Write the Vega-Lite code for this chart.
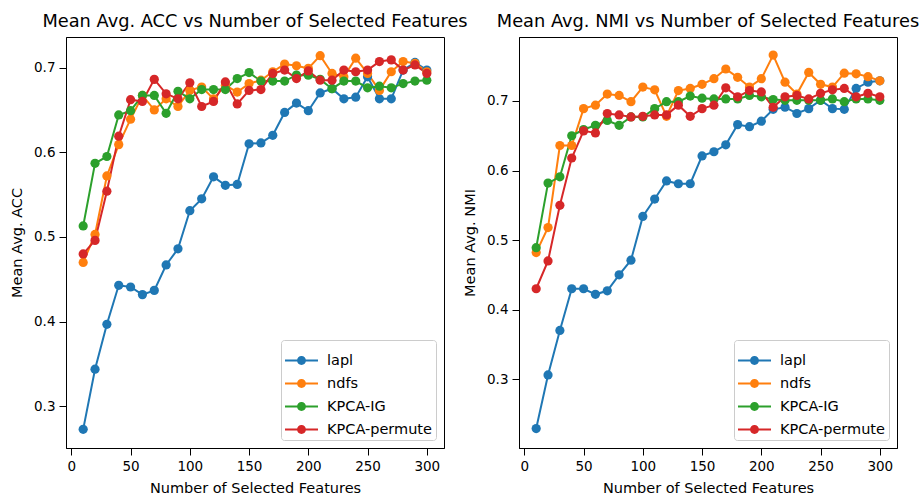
{
  "$schema": "https://vega.github.io/schema/vega-lite/v6.json",
  "background": "white",
  "padding": {"left": 9, "top": 12, "right": 5, "bottom": 5},
  "config": {
    "font": "DejaVu Sans",
    "view": {"stroke": "black", "strokeWidth": 1},
    "axis": {"grid": false, "domainColor": "black", "tickColor": "black", "labelColor": "black", "titleColor": "black", "labelFontSize": 13.5, "titleFontSize": 14.5, "titleFontWeight": "normal", "tickSize": 7, "labelPadding": 4},
    "axisX": {"titlePadding": 9},
    "axisY": {"titlePadding": 9},
    "title": {"fontSize": 17.8, "fontWeight": "normal", "anchor": "middle", "offset": 6, "color": "black"},
    "legend": {"labelFontSize": 14.5, "labelColor": "black"}
  },
  "datasets": {
    "d": [
      {"m":"ACC","method":"lapl","n":10,"v":0.273},{"m":"ACC","method":"lapl","n":20,"v":0.344},{"m":"ACC","method":"lapl","n":30,"v":0.397},{"m":"ACC","method":"lapl","n":40,"v":0.443},{"m":"ACC","method":"lapl","n":50,"v":0.441},{"m":"ACC","method":"lapl","n":60,"v":0.432},{"m":"ACC","method":"lapl","n":70,"v":0.437},{"m":"ACC","method":"lapl","n":80,"v":0.467},{"m":"ACC","method":"lapl","n":90,"v":0.486},{"m":"ACC","method":"lapl","n":100,"v":0.531},{"m":"ACC","method":"lapl","n":110,"v":0.545},{"m":"ACC","method":"lapl","n":120,"v":0.571},{"m":"ACC","method":"lapl","n":130,"v":0.561},{"m":"ACC","method":"lapl","n":140,"v":0.562},{"m":"ACC","method":"lapl","n":150,"v":0.610},{"m":"ACC","method":"lapl","n":160,"v":0.611},{"m":"ACC","method":"lapl","n":170,"v":0.620},{"m":"ACC","method":"lapl","n":180,"v":0.647},{"m":"ACC","method":"lapl","n":190,"v":0.658},{"m":"ACC","method":"lapl","n":200,"v":0.649},{"m":"ACC","method":"lapl","n":210,"v":0.670},{"m":"ACC","method":"lapl","n":220,"v":0.675},{"m":"ACC","method":"lapl","n":230,"v":0.663},{"m":"ACC","method":"lapl","n":240,"v":0.665},{"m":"ACC","method":"lapl","n":250,"v":0.689},{"m":"ACC","method":"lapl","n":260,"v":0.663},{"m":"ACC","method":"lapl","n":270,"v":0.663},{"m":"ACC","method":"lapl","n":280,"v":0.697},{"m":"ACC","method":"lapl","n":290,"v":0.706},{"m":"ACC","method":"lapl","n":300,"v":0.697},
      {"m":"ACC","method":"ndfs","n":10,"v":0.470},{"m":"ACC","method":"ndfs","n":20,"v":0.503},{"m":"ACC","method":"ndfs","n":30,"v":0.572},{"m":"ACC","method":"ndfs","n":40,"v":0.609},{"m":"ACC","method":"ndfs","n":50,"v":0.639},{"m":"ACC","method":"ndfs","n":60,"v":0.667},{"m":"ACC","method":"ndfs","n":70,"v":0.650},{"m":"ACC","method":"ndfs","n":80,"v":0.663},{"m":"ACC","method":"ndfs","n":90,"v":0.654},{"m":"ACC","method":"ndfs","n":100,"v":0.673},{"m":"ACC","method":"ndfs","n":110,"v":0.677},{"m":"ACC","method":"ndfs","n":120,"v":0.663},{"m":"ACC","method":"ndfs","n":130,"v":0.679},{"m":"ACC","method":"ndfs","n":140,"v":0.671},{"m":"ACC","method":"ndfs","n":150,"v":0.681},{"m":"ACC","method":"ndfs","n":160,"v":0.685},{"m":"ACC","method":"ndfs","n":170,"v":0.695},{"m":"ACC","method":"ndfs","n":180,"v":0.704},{"m":"ACC","method":"ndfs","n":190,"v":0.702},{"m":"ACC","method":"ndfs","n":200,"v":0.699},{"m":"ACC","method":"ndfs","n":210,"v":0.714},{"m":"ACC","method":"ndfs","n":220,"v":0.693},{"m":"ACC","method":"ndfs","n":230,"v":0.689},{"m":"ACC","method":"ndfs","n":240,"v":0.711},{"m":"ACC","method":"ndfs","n":250,"v":0.693},{"m":"ACC","method":"ndfs","n":260,"v":0.673},{"m":"ACC","method":"ndfs","n":270,"v":0.695},{"m":"ACC","method":"ndfs","n":280,"v":0.707},{"m":"ACC","method":"ndfs","n":290,"v":0.705},{"m":"ACC","method":"ndfs","n":300,"v":0.695},
      {"m":"ACC","method":"KPCA-IG","n":10,"v":0.513},{"m":"ACC","method":"KPCA-IG","n":20,"v":0.587},{"m":"ACC","method":"KPCA-IG","n":30,"v":0.595},{"m":"ACC","method":"KPCA-IG","n":40,"v":0.644},{"m":"ACC","method":"KPCA-IG","n":50,"v":0.649},{"m":"ACC","method":"KPCA-IG","n":60,"v":0.667},{"m":"ACC","method":"KPCA-IG","n":70,"v":0.667},{"m":"ACC","method":"KPCA-IG","n":80,"v":0.646},{"m":"ACC","method":"KPCA-IG","n":90,"v":0.672},{"m":"ACC","method":"KPCA-IG","n":100,"v":0.663},{"m":"ACC","method":"KPCA-IG","n":110,"v":0.674},{"m":"ACC","method":"KPCA-IG","n":120,"v":0.674},{"m":"ACC","method":"KPCA-IG","n":130,"v":0.674},{"m":"ACC","method":"KPCA-IG","n":140,"v":0.687},{"m":"ACC","method":"KPCA-IG","n":150,"v":0.694},{"m":"ACC","method":"KPCA-IG","n":160,"v":0.684},{"m":"ACC","method":"KPCA-IG","n":170,"v":0.684},{"m":"ACC","method":"KPCA-IG","n":180,"v":0.684},{"m":"ACC","method":"KPCA-IG","n":190,"v":0.691},{"m":"ACC","method":"KPCA-IG","n":200,"v":0.691},{"m":"ACC","method":"KPCA-IG","n":210,"v":0.686},{"m":"ACC","method":"KPCA-IG","n":220,"v":0.675},{"m":"ACC","method":"KPCA-IG","n":230,"v":0.684},{"m":"ACC","method":"KPCA-IG","n":240,"v":0.684},{"m":"ACC","method":"KPCA-IG","n":250,"v":0.676},{"m":"ACC","method":"KPCA-IG","n":260,"v":0.678},{"m":"ACC","method":"KPCA-IG","n":270,"v":0.676},{"m":"ACC","method":"KPCA-IG","n":280,"v":0.681},{"m":"ACC","method":"KPCA-IG","n":290,"v":0.684},{"m":"ACC","method":"KPCA-IG","n":300,"v":0.685},
      {"m":"ACC","method":"KPCA-permute","n":10,"v":0.480},{"m":"ACC","method":"KPCA-permute","n":20,"v":0.496},{"m":"ACC","method":"KPCA-permute","n":30,"v":0.554},{"m":"ACC","method":"KPCA-permute","n":40,"v":0.619},{"m":"ACC","method":"KPCA-permute","n":50,"v":0.662},{"m":"ACC","method":"KPCA-permute","n":60,"v":0.660},{"m":"ACC","method":"KPCA-permute","n":70,"v":0.686},{"m":"ACC","method":"KPCA-permute","n":80,"v":0.669},{"m":"ACC","method":"KPCA-permute","n":90,"v":0.663},{"m":"ACC","method":"KPCA-permute","n":100,"v":0.682},{"m":"ACC","method":"KPCA-permute","n":110,"v":0.654},{"m":"ACC","method":"KPCA-permute","n":120,"v":0.660},{"m":"ACC","method":"KPCA-permute","n":130,"v":0.683},{"m":"ACC","method":"KPCA-permute","n":140,"v":0.657},{"m":"ACC","method":"KPCA-permute","n":150,"v":0.673},{"m":"ACC","method":"KPCA-permute","n":160,"v":0.674},{"m":"ACC","method":"KPCA-permute","n":170,"v":0.693},{"m":"ACC","method":"KPCA-permute","n":180,"v":0.697},{"m":"ACC","method":"KPCA-permute","n":190,"v":0.687},{"m":"ACC","method":"KPCA-permute","n":200,"v":0.696},{"m":"ACC","method":"KPCA-permute","n":210,"v":0.685},{"m":"ACC","method":"KPCA-permute","n":220,"v":0.685},{"m":"ACC","method":"KPCA-permute","n":230,"v":0.697},{"m":"ACC","method":"KPCA-permute","n":240,"v":0.695},{"m":"ACC","method":"KPCA-permute","n":250,"v":0.697},{"m":"ACC","method":"KPCA-permute","n":260,"v":0.707},{"m":"ACC","method":"KPCA-permute","n":270,"v":0.709},{"m":"ACC","method":"KPCA-permute","n":280,"v":0.697},{"m":"ACC","method":"KPCA-permute","n":290,"v":0.703},{"m":"ACC","method":"KPCA-permute","n":300,"v":0.693},
      {"m":"NMI","method":"lapl","n":10,"v":0.229},{"m":"NMI","method":"lapl","n":20,"v":0.306},{"m":"NMI","method":"lapl","n":30,"v":0.370},{"m":"NMI","method":"lapl","n":40,"v":0.430},{"m":"NMI","method":"lapl","n":50,"v":0.430},{"m":"NMI","method":"lapl","n":60,"v":0.422},{"m":"NMI","method":"lapl","n":70,"v":0.427},{"m":"NMI","method":"lapl","n":80,"v":0.450},{"m":"NMI","method":"lapl","n":90,"v":0.471},{"m":"NMI","method":"lapl","n":100,"v":0.534},{"m":"NMI","method":"lapl","n":110,"v":0.559},{"m":"NMI","method":"lapl","n":120,"v":0.585},{"m":"NMI","method":"lapl","n":130,"v":0.581},{"m":"NMI","method":"lapl","n":140,"v":0.581},{"m":"NMI","method":"lapl","n":150,"v":0.621},{"m":"NMI","method":"lapl","n":160,"v":0.627},{"m":"NMI","method":"lapl","n":170,"v":0.637},{"m":"NMI","method":"lapl","n":180,"v":0.666},{"m":"NMI","method":"lapl","n":190,"v":0.663},{"m":"NMI","method":"lapl","n":200,"v":0.671},{"m":"NMI","method":"lapl","n":210,"v":0.688},{"m":"NMI","method":"lapl","n":220,"v":0.691},{"m":"NMI","method":"lapl","n":230,"v":0.682},{"m":"NMI","method":"lapl","n":240,"v":0.689},{"m":"NMI","method":"lapl","n":250,"v":0.701},{"m":"NMI","method":"lapl","n":260,"v":0.689},{"m":"NMI","method":"lapl","n":270,"v":0.688},{"m":"NMI","method":"lapl","n":280,"v":0.718},{"m":"NMI","method":"lapl","n":290,"v":0.727},{"m":"NMI","method":"lapl","n":300,"v":0.729},
      {"m":"NMI","method":"ndfs","n":10,"v":0.482},{"m":"NMI","method":"ndfs","n":20,"v":0.518},{"m":"NMI","method":"ndfs","n":30,"v":0.636},{"m":"NMI","method":"ndfs","n":40,"v":0.636},{"m":"NMI","method":"ndfs","n":50,"v":0.689},{"m":"NMI","method":"ndfs","n":60,"v":0.694},{"m":"NMI","method":"ndfs","n":70,"v":0.710},{"m":"NMI","method":"ndfs","n":80,"v":0.708},{"m":"NMI","method":"ndfs","n":90,"v":0.699},{"m":"NMI","method":"ndfs","n":100,"v":0.720},{"m":"NMI","method":"ndfs","n":110,"v":0.716},{"m":"NMI","method":"ndfs","n":120,"v":0.678},{"m":"NMI","method":"ndfs","n":130,"v":0.715},{"m":"NMI","method":"ndfs","n":140,"v":0.718},{"m":"NMI","method":"ndfs","n":150,"v":0.724},{"m":"NMI","method":"ndfs","n":160,"v":0.732},{"m":"NMI","method":"ndfs","n":170,"v":0.746},{"m":"NMI","method":"ndfs","n":180,"v":0.734},{"m":"NMI","method":"ndfs","n":190,"v":0.720},{"m":"NMI","method":"ndfs","n":200,"v":0.732},{"m":"NMI","method":"ndfs","n":210,"v":0.766},{"m":"NMI","method":"ndfs","n":220,"v":0.727},{"m":"NMI","method":"ndfs","n":230,"v":0.710},{"m":"NMI","method":"ndfs","n":240,"v":0.741},{"m":"NMI","method":"ndfs","n":250,"v":0.724},{"m":"NMI","method":"ndfs","n":260,"v":0.720},{"m":"NMI","method":"ndfs","n":270,"v":0.740},{"m":"NMI","method":"ndfs","n":280,"v":0.739},{"m":"NMI","method":"ndfs","n":290,"v":0.735},{"m":"NMI","method":"ndfs","n":300,"v":0.729},
      {"m":"NMI","method":"KPCA-IG","n":10,"v":0.489},{"m":"NMI","method":"KPCA-IG","n":20,"v":0.582},{"m":"NMI","method":"KPCA-IG","n":30,"v":0.591},{"m":"NMI","method":"KPCA-IG","n":40,"v":0.650},{"m":"NMI","method":"KPCA-IG","n":50,"v":0.659},{"m":"NMI","method":"KPCA-IG","n":60,"v":0.665},{"m":"NMI","method":"KPCA-IG","n":70,"v":0.672},{"m":"NMI","method":"KPCA-IG","n":80,"v":0.665},{"m":"NMI","method":"KPCA-IG","n":90,"v":0.677},{"m":"NMI","method":"KPCA-IG","n":100,"v":0.677},{"m":"NMI","method":"KPCA-IG","n":110,"v":0.689},{"m":"NMI","method":"KPCA-IG","n":120,"v":0.699},{"m":"NMI","method":"KPCA-IG","n":130,"v":0.699},{"m":"NMI","method":"KPCA-IG","n":140,"v":0.707},{"m":"NMI","method":"KPCA-IG","n":150,"v":0.704},{"m":"NMI","method":"KPCA-IG","n":160,"v":0.703},{"m":"NMI","method":"KPCA-IG","n":170,"v":0.703},{"m":"NMI","method":"KPCA-IG","n":180,"v":0.703},{"m":"NMI","method":"KPCA-IG","n":190,"v":0.708},{"m":"NMI","method":"KPCA-IG","n":200,"v":0.706},{"m":"NMI","method":"KPCA-IG","n":210,"v":0.702},{"m":"NMI","method":"KPCA-IG","n":220,"v":0.701},{"m":"NMI","method":"KPCA-IG","n":230,"v":0.701},{"m":"NMI","method":"KPCA-IG","n":240,"v":0.701},{"m":"NMI","method":"KPCA-IG","n":250,"v":0.701},{"m":"NMI","method":"KPCA-IG","n":260,"v":0.703},{"m":"NMI","method":"KPCA-IG","n":270,"v":0.699},{"m":"NMI","method":"KPCA-IG","n":280,"v":0.703},{"m":"NMI","method":"KPCA-IG","n":290,"v":0.703},{"m":"NMI","method":"KPCA-IG","n":300,"v":0.701},
      {"m":"NMI","method":"KPCA-permute","n":10,"v":0.430},{"m":"NMI","method":"KPCA-permute","n":20,"v":0.470},{"m":"NMI","method":"KPCA-permute","n":30,"v":0.550},{"m":"NMI","method":"KPCA-permute","n":40,"v":0.618},{"m":"NMI","method":"KPCA-permute","n":50,"v":0.657},{"m":"NMI","method":"KPCA-permute","n":60,"v":0.654},{"m":"NMI","method":"KPCA-permute","n":70,"v":0.682},{"m":"NMI","method":"KPCA-permute","n":80,"v":0.680},{"m":"NMI","method":"KPCA-permute","n":90,"v":0.677},{"m":"NMI","method":"KPCA-permute","n":100,"v":0.678},{"m":"NMI","method":"KPCA-permute","n":110,"v":0.680},{"m":"NMI","method":"KPCA-permute","n":120,"v":0.680},{"m":"NMI","method":"KPCA-permute","n":130,"v":0.694},{"m":"NMI","method":"KPCA-permute","n":140,"v":0.678},{"m":"NMI","method":"KPCA-permute","n":150,"v":0.689},{"m":"NMI","method":"KPCA-permute","n":160,"v":0.694},{"m":"NMI","method":"KPCA-permute","n":170,"v":0.719},{"m":"NMI","method":"KPCA-permute","n":180,"v":0.706},{"m":"NMI","method":"KPCA-permute","n":190,"v":0.715},{"m":"NMI","method":"KPCA-permute","n":200,"v":0.713},{"m":"NMI","method":"KPCA-permute","n":210,"v":0.691},{"m":"NMI","method":"KPCA-permute","n":220,"v":0.706},{"m":"NMI","method":"KPCA-permute","n":230,"v":0.708},{"m":"NMI","method":"KPCA-permute","n":240,"v":0.703},{"m":"NMI","method":"KPCA-permute","n":250,"v":0.711},{"m":"NMI","method":"KPCA-permute","n":260,"v":0.716},{"m":"NMI","method":"KPCA-permute","n":270,"v":0.718},{"m":"NMI","method":"KPCA-permute","n":280,"v":0.706},{"m":"NMI","method":"KPCA-permute","n":290,"v":0.711},{"m":"NMI","method":"KPCA-permute","n":300,"v":0.706}
    ]
  },
  "spacing": 75,
  "bounds": "flush",
  "resolve": {"scale": {"y": "independent", "color": "independent", "stroke": "independent"}, "legend": {"color": "independent"}},
  "hconcat": [
    {
      "title": "Mean Avg. ACC vs Number of Selected Features",
      "width": 378, "height": 411,
      "data": {"name": "d"},
      "transform": [{"filter": "datum.m === 'ACC'"}],
      "encoding": {
        "x": {"field": "n", "type": "quantitative", "scale": {"domain": [-4.5, 314.5], "nice": false, "zero": false}, "axis": {"values": [0, 50, 100, 150, 200, 250, 300], "title": "Number of Selected Features"}},
        "y": {"field": "v", "type": "quantitative", "scale": {"domain": [0.251, 0.736], "nice": false, "zero": false}, "axis": {"values": [0.3, 0.4, 0.5, 0.6, 0.7], "format": ".1f", "title": "Mean Avg. ACC"}}
      },
      "layer": [
        {"mark": {"type": "line", "strokeWidth": 2}, "encoding": {"stroke": {"field": "method", "type": "nominal", "scale": {"domain": ["KPCA-permute", "KPCA-IG", "ndfs", "lapl"], "range": ["#d62728", "#2ca02c", "#ff7f0e", "#1f77b4"]}, "legend": null}}},
        {"mark": {"type": "point", "filled": true, "size": 85, "opacity": 1}, "encoding": {"color": {"field": "method", "type": "nominal", "scale": {"domain": ["lapl", "ndfs", "KPCA-IG", "KPCA-permute"], "range": ["#1f77b4", "#ff7f0e", "#2ca02c", "#d62728"]}, "legend": {"title": null, "orient": "bottom-right", "offset": 8, "symbolType": "M-1,-0.06 L1,-0.06 L1,0.06 L-1,0.06 Z M0.27,0 A0.27,0.27 0 1,1 -0.27,0 A0.27,0.27 0 1,1 0.27,0 Z", "symbolSize": 1089, "symbolStrokeWidth": 0, "symbolOpacity": 1, "padding": 4, "rowPadding": 0, "labelOffset": 9, "strokeColor": "#cccccc", "fillColor": "white", "cornerRadius": 3}}}}
      ]
    },
    {
      "title": "Mean Avg. NMI vs Number of Selected Features",
      "width": 378, "height": 411,
      "data": {"name": "d"},
      "transform": [{"filter": "datum.m === 'NMI'"}],
      "encoding": {
        "x": {"field": "n", "type": "quantitative", "scale": {"domain": [-4.5, 314.5], "nice": false, "zero": false}, "axis": {"values": [0, 50, 100, 150, 200, 250, 300], "title": "Number of Selected Features"}},
        "y": {"field": "v", "type": "quantitative", "scale": {"domain": [0.201, 0.792], "nice": false, "zero": false}, "axis": {"values": [0.3, 0.4, 0.5, 0.6, 0.7], "format": ".1f", "title": "Mean Avg. NMI"}}
      },
      "layer": [
        {"mark": {"type": "line", "strokeWidth": 2}, "encoding": {"stroke": {"field": "method", "type": "nominal", "scale": {"domain": ["KPCA-permute", "KPCA-IG", "ndfs", "lapl"], "range": ["#d62728", "#2ca02c", "#ff7f0e", "#1f77b4"]}, "legend": null}}},
        {"mark": {"type": "point", "filled": true, "size": 85, "opacity": 1}, "encoding": {"color": {"field": "method", "type": "nominal", "scale": {"domain": ["lapl", "ndfs", "KPCA-IG", "KPCA-permute"], "range": ["#1f77b4", "#ff7f0e", "#2ca02c", "#d62728"]}, "legend": {"title": null, "orient": "bottom-right", "offset": 8, "symbolType": "M-1,-0.06 L1,-0.06 L1,0.06 L-1,0.06 Z M0.27,0 A0.27,0.27 0 1,1 -0.27,0 A0.27,0.27 0 1,1 0.27,0 Z", "symbolSize": 1089, "symbolStrokeWidth": 0, "symbolOpacity": 1, "padding": 4, "rowPadding": 0, "labelOffset": 9, "strokeColor": "#cccccc", "fillColor": "white", "cornerRadius": 3}}}}
      ]
    }
  ]
}
